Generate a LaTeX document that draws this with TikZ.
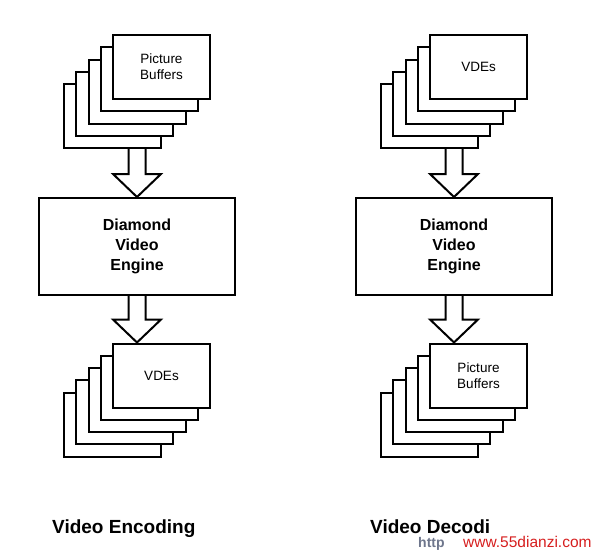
\documentclass[tikz,border=0pt]{standalone}
\usepackage{fontspec}
\setmainfont{Liberation Sans}
\usetikzlibrary{calc}
\newcommand\sheetstack[4]{%
  \foreach \i in {4,3,2,1}
    \node[sheet] (#1\i) at ({#2-12.25*\i},{#3+12.25*\i}) {};
  \node[sheet] (#10) at (#2,#3) {#4};}
\newcommand\fatarrow[2]{%
  \draw[fat] ($(#1)+(-8.5,0)$) -- ($(#2)+(-8.5,-23)$) -- ($(#2)+(-24,-23)$) -- (#2)
    -- ($(#2)+(24,-23)$) -- ($(#2)+(8.5,-23)$) -- ($(#1)+(8.5,0)$);}
\begin{document}
\begin{tikzpicture}[x=1pt,y=-1pt,
  sheet/.style={draw, line width=2pt, fill=white, minimum width=97pt, minimum height=64pt,
    inner sep=0pt, align=center, font=\fontsize{13.5}{16}\selectfont},
  engine/.style={draw, line width=2pt, fill=white, minimum width=196pt, minimum height=97pt,
    inner sep=0pt, align=center, font=\bfseries\fontsize{16}{20}\selectfont},
  fat/.style={draw, line width=2pt, fill=white, line join=miter},
  caption/.style={anchor=base west, inner sep=0pt, font=\bfseries\fontsize{19}{22}\selectfont}]
\useasboundingbox (0,0) rectangle (597,554);
% left column
\sheetstack{LT}{161.5}{67}{Picture\\Buffers}
\node[engine] (LE) at (137,246.5) {Diamond\\Video\\Engine};
\sheetstack{LB}{161.5}{375.5}{VDEs}
\fatarrow{LT4.south -| LE.north}{LE.north}
\fatarrow{LE.south}{LE.south |- LB0.north}
% right column
\sheetstack{RT}{478.5}{67}{VDEs}
\node[engine] (RE) at (454,246.5) {Diamond\\Video\\Engine};
\sheetstack{RB}{478.5}{375.5}{Picture\\Buffers}
\fatarrow{RT4.south -| RE.north}{RE.north}
\fatarrow{RE.south}{RE.south |- RB0.north}
% captions
\node[caption] (capL) at (52,533) {Video Encoding};
\node[caption] (capR) at (370,533) {Video Decodi};
\node[anchor=base west, inner sep=0pt, text={rgb,255:red,110;green,118;blue,140},
  font=\bfseries\fontsize{14}{16}\selectfont] (http) at (418,547) {http};
\node[anchor=base west, inner sep=0pt, text={rgb,255:red,214;green,30;blue,30},
  font=\fontsize{15.5}{18}\selectfont] (wm) at (463,547) {www.55dianzi.com};
\end{tikzpicture}
\end{document}
